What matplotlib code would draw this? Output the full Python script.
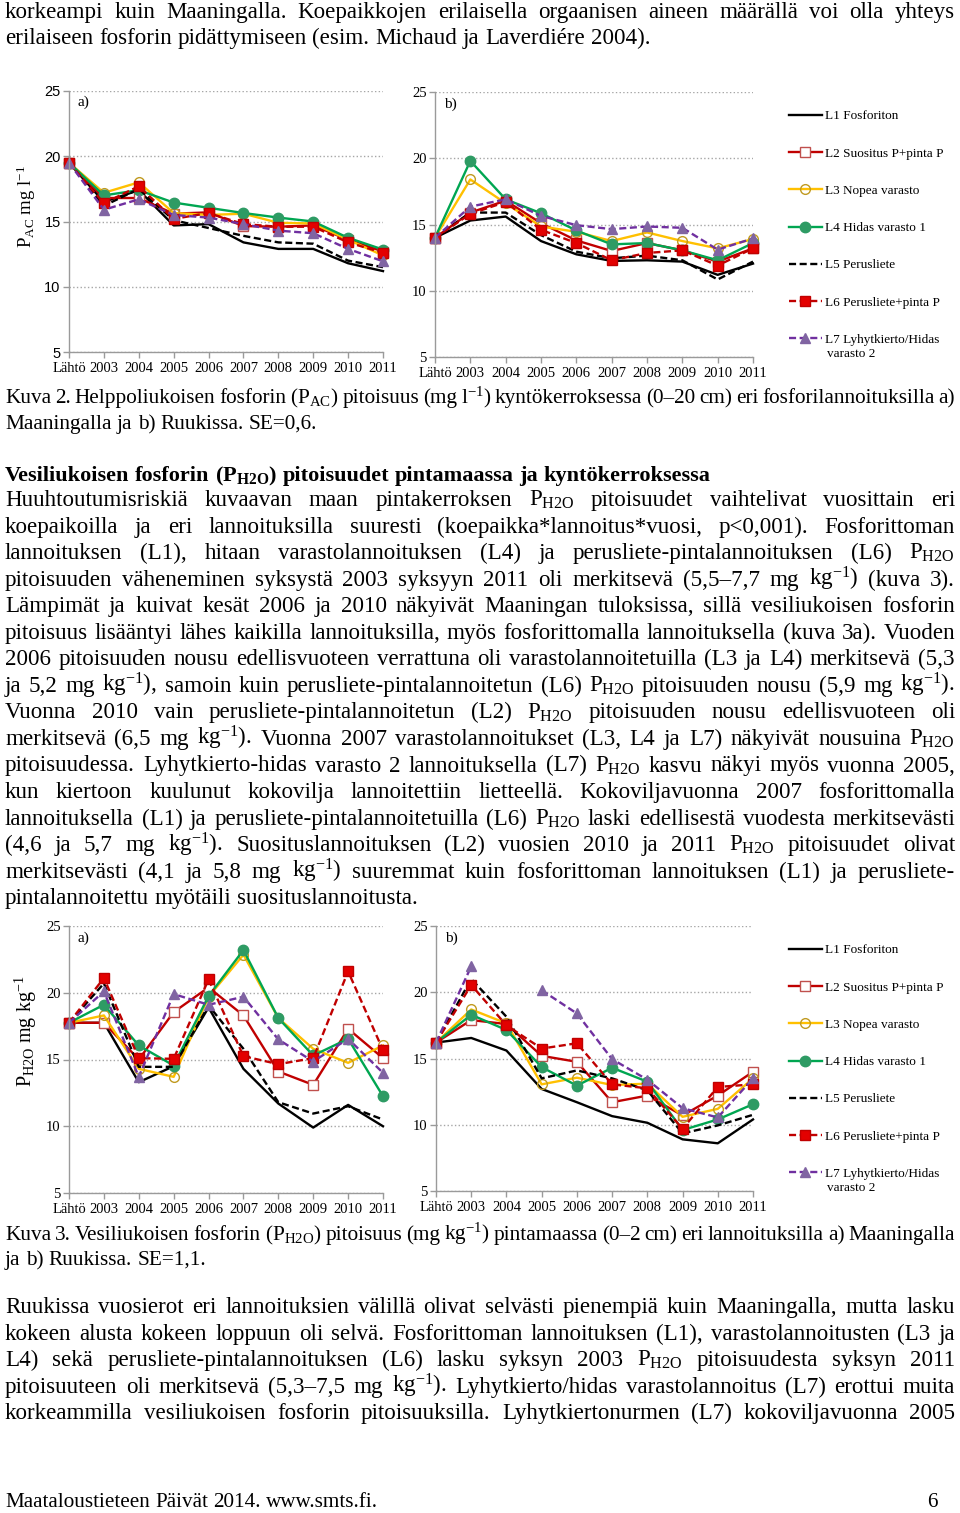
import numpy as np
import matplotlib
matplotlib.use('Agg')
import matplotlib.pyplot as plt
from matplotlib.lines import Line2D

plt.rcParams['font.family'] = ['Liberation Serif', 'DejaVu Serif']
plt.rcParams['mathtext.fontset'] = 'custom'
plt.rcParams['mathtext.rm'] = 'Liberation Serif'
plt.rcParams['mathtext.it'] = 'Liberation Serif:italic'
plt.rcParams['mathtext.bf'] = 'Liberation Serif:bold'

# ---- data -------------------------------------------------------------
years = ['Lähtö', '2003', '2004', '2005', '2006', '2007', '2008', '2009', '2010', '2011']
series_names = ['L1 Fosforiton', 'L2 Suositus P+pinta P', 'L3 Nopea varasto',
                'L4 Hidas varasto 1', 'L5 Perusliete', 'L6 Perusliete+pinta P',
                'L7 Lyhytkierto/Hidas']

# Kuva 2 a) Maaninka, P_AC
pac_a_L1 = [19.5, 16.5, 17.4, 14.7, 14.8, 13.4, 12.9, 12.9, 11.8, 11.2]
pac_a_L2 = [19.5, 16.8, 16.8, 15.6, 15.7, 14.65, 14.6, 14.7, 13.6, 12.7]
pac_a_L3 = [19.5, 17.2, 18.0, 15.65, 15.5, 15.6, 14.9, 14.85, 13.6, 12.4]
pac_a_L4 = [19.5, 17.0, 17.4, 16.45, 16.05, 15.65, 15.3, 15.0, 13.75, 12.85]
pac_a_L5 = [19.5, 16.2, 17.5, 15.1, 14.5, 13.9, 13.4, 13.3, 12.0, 11.5]
pac_a_L6 = [19.5, 16.4, 17.7, 15.2, 15.65, 14.8, 14.6, 14.6, 13.4, 12.6]
pac_a_L7 = [19.5, 15.9, 16.7, 15.5, 15.3, 14.8, 14.3, 14.1, 12.9, 11.95]

# Kuva 2 b) Ruukki, P_AC
pac_b_L1 = [14.0, 15.3, 15.6, 13.75, 12.75, 12.25, 12.3, 12.2, 11.2, 12.05]
pac_b_L2 = [14.0, 15.9, 16.8, 15.1, 13.8, 13.0, 13.6, 13.05, 12.2, 13.2]
pac_b_L3 = [14.0, 18.4, 16.6, 14.85, 14.45, 13.75, 14.4, 13.75, 13.2, 13.9]
pac_b_L4 = [14.0, 19.8, 16.9, 15.85, 14.55, 13.5, 13.6, 13.05, 12.3, 13.6]
pac_b_L5 = [14.0, 15.9, 15.9, 14.2, 12.95, 12.45, 12.65, 12.3, 10.85, 12.2]
pac_b_L6 = [14.0, 15.8, 16.7, 14.6, 13.6, 12.3, 12.85, 13.05, 11.9, 13.2]
pac_b_L7 = [14.0, 16.35, 16.9, 15.65, 14.95, 14.65, 14.85, 14.75, 13.1, 13.95]

# Kuva 3 a) Maaninka, P_H2O
h2o_a_L1 = [17.75, 17.75, 13.3, 14.5, 18.9, 14.3, 11.7, 9.9, 11.6, 10.0]
h2o_a_L2 = [17.75, 17.75, 15.0, 18.55, 20.4, 18.3, 14.1, 13.1, 17.3, 15.1]
h2o_a_L3 = [17.75, 18.3, 14.3, 13.7, 19.7, 22.85, 18.1, 15.8, 14.75, 16.05]
h2o_a_L4 = [17.75, 19.1, 16.05, 14.55, 19.75, 23.2, 18.1, 15.3, 16.55, 12.25]
h2o_a_L5 = [17.75, 20.7, 14.45, 14.45, 19.05, 15.8, 11.8, 10.95, 11.5, 10.5]
h2o_a_L6 = [17.75, 21.1, 15.1, 15.05, 21.0, 15.25, 14.65, 15.1, 21.6, 15.7]
h2o_a_L7 = [17.75, 20.1, 13.7, 19.9, 19.1, 19.7, 16.5, 14.85, 16.55, 14.0]

# Kuva 3 b) Ruukki, P_H2O
h2o_b_L1 = [16.2, 16.55, 15.6, 12.7, 11.7, 10.65, 10.15, 8.9, 8.6, 10.4]
h2o_b_L2 = [16.2, 17.9, 17.6, 15.2, 14.75, 11.7, 12.2, 10.7, 12.2, 14.0]
h2o_b_L3 = [16.2, 18.7, 17.65, 13.05, 13.55, 13.0, 13.1, 10.6, 11.2, 13.5]
h2o_b_L4 = [16.2, 18.3, 17.15, 14.35, 12.95, 14.3, 13.25, 9.6, 10.4, 11.55]
h2o_b_L5 = [16.2, 21.0, 18.15, 13.5, 14.1, 13.5, 12.6, 9.35, 9.95, 10.75]
h2o_b_L6 = [16.2, 20.55, 17.5, 15.75, 16.15, 13.05, 12.75, 9.7, 12.85, 13.05]
h2o_b_L7 = [16.2, 21.95, np.nan, 20.15, 18.4, 14.95, 13.4, 11.25, 10.55, 13.5]

# ---- styles -----------------------------------------------------------
styles = [
    dict(color='black', lw=1.7),
    dict(color='#C00000', lw=1.7, marker='s', ms=7, mfc='white', mec='#C0504D', mew=1.0),
    dict(color='#FFC000', lw=1.7, marker='o', ms=7, mfc='none', mec='#C09A20', mew=1.0),
    dict(color='#00A651', lw=1.7, marker='o', ms=7.5, mfc='#2E9B64', mec='#2E9B64'),
    dict(color='black', lw=1.7, ls=(0, (3, 1.5))),
    dict(color='#C00000', lw=1.7, ls=(0, (3, 1.5)), marker='s', ms=7, mfc='#E30000', mec='#C00000'),
    dict(color='#7030A0', lw=1.7, ls=(0, (3, 1.5)), marker='^', ms=7, mfc='#8064A2', mec='#8064A2'),
]

W, H = 960, 1513
fig = plt.figure(figsize=(W / 100, H / 100), dpi=100)
fig.patch.set_facecolor('white')
renderer = fig.canvas.get_renderer()

BODY = 16.6
CAPT = 15.3
TICK = 10.5


def put_line(text, base, justify=True, size=BODY, weight='normal', x0=5, x1=955):
    # place words one by one so that justified lines fill the column
    items = [fig.text(0, 0, w, fontsize=size, fontweight=weight, va='baseline', ha='left')
             for w in text.split(' ')]
    widths = [t.get_window_extent(renderer).width for t in items]
    space = size * 100 / 72 * 0.25
    if justify and len(items) > 1:
        gap = max((x1 - x0 - sum(widths)) / (len(items) - 1), space * 0.5)
    else:
        gap = space
    x = x0
    for t, w in zip(items, widths):
        t.set_position((x / W, 1 - base / H))
        x += w + gap


def panel(rect, data, tag, ylab=None, sans_y=False):
    l, r, t, b = rect
    ax = fig.add_axes([l / W, 1 - b / H, (r - l) / W, (b - t) / H])
    x = np.arange(len(years))
    for vals, st in zip(data, styles):
        ax.plot(x, vals, clip_on=False, **st)
    ax.set_xlim(0, 9)
    ax.set_ylim(5, 25)
    ax.set_yticks([5, 10, 15, 20, 25])
    ax.set_xticks(x)
    ax.set_xticklabels(years)
    ax.grid(axis='y', color='#a6a6a6', ls=':', lw=1.0)
    ax.set_axisbelow(True)
    for s in ['top', 'right']:
        ax.spines[s].set_visible(False)
    for s in ['left', 'bottom']:
        ax.spines[s].set_color('#9a9a9a')
        ax.spines[s].set_linewidth(1.0)
    ax.tick_params(axis='both', color='#9a9a9a', length=4, width=1.0, labelsize=TICK)
    ax.tick_params(axis='y', pad=2)
    ax.tick_params(axis='x', pad=3)
    if sans_y:
        for lab in ax.get_yticklabels():
            lab.set_family('Liberation Sans')
    ax.text(0.028, 0.955, tag, transform=ax.transAxes, fontsize=11, va='center')
    if ylab:
        fig.text(26 / W, 1 - ylab[1] / H, ylab[0], rotation=90, fontsize=ylab[2],
                 ha='center', va='center')
    return ax


def legend(top):
    handles = [Line2D([], [], **st) for st in styles]
    fig.legend(handles, series_names, loc='upper left',
               bbox_to_anchor=(789 / W, 1 - top / H), frameon=False, fontsize=9.5,
               labelspacing=1.9, handlelength=2.5, handletextpad=0.25,
               borderpad=0, borderaxespad=0)


# ---- text -------------------------------------------------------------
put_line("korkeampi kuin Maaningalla. Koepaikkojen erilaisella orgaanisen aineen määrällä voi olla yhteys", 18)
put_line("erilaiseen fosforin pidättymiseen (esim. Michaud ja Laverdiére 2004).", 44, justify=False)

put_line(r"Kuva 2. Helppoliukoisen fosforin (P$_{\mathrm{AC}}$) pitoisuus (mg l$^{\mathrm{-1}}$) kyntökerroksessa (0–20 cm) eri fosforilannoituksilla a)",
         403, size=CAPT)
put_line("Maaningalla ja b) Ruukissa. SE=0,6.", 429, justify=False, size=CAPT)

put_line(r"Vesiliukoisen fosforin (P$_{\mathbf{H2O}}$) pitoisuudet pintamaassa ja kyntökerroksessa",
         481, justify=False, weight='bold', size=16.0)

para1 = [
    r"Huuhtoutumisriskiä kuvaavan maan pintakerroksen P$_{\mathrm{H2O}}$ pitoisuudet vaihtelivat vuosittain eri",
    r"koepaikoilla ja eri lannoituksilla suuresti (koepaikka*lannoitus*vuosi, p<0,001). Fosforittoman",
    r"lannoituksen (L1), hitaan varastolannoituksen (L4) ja perusliete-pintalannoituksen (L6) P$_{\mathrm{H2O}}$",
    r"pitoisuuden väheneminen syksystä 2003 syksyyn 2011 oli merkitsevä (5,5–7,7 mg kg$^{\mathrm{-1}}$) (kuva 3).",
    r"Lämpimät ja kuivat kesät 2006 ja 2010 näkyivät Maaningan tuloksissa, sillä vesiliukoisen fosforin",
    r"pitoisuus lisääntyi lähes kaikilla lannoituksilla, myös fosforittomalla lannoituksella (kuva 3a). Vuoden",
    r"2006 pitoisuuden nousu edellisvuoteen verrattuna oli varastolannoitetuilla (L3 ja L4) merkitsevä (5,3",
    r"ja 5,2 mg kg$^{\mathrm{-1}}$), samoin kuin perusliete-pintalannoitetun (L6) P$_{\mathrm{H2O}}$ pitoisuuden nousu (5,9 mg kg$^{\mathrm{-1}}$).",
    r"Vuonna 2010 vain perusliete-pintalannoitetun (L2) P$_{\mathrm{H2O}}$ pitoisuuden nousu edellisvuoteen oli",
    r"merkitsevä (6,5 mg kg$^{\mathrm{-1}}$). Vuonna 2007 varastolannoitukset (L3, L4 ja L7) näkyivät nousuina P$_{\mathrm{H2O}}$",
    r"pitoisuudessa. Lyhytkierto-hidas varasto 2 lannoituksella (L7) P$_{\mathrm{H2O}}$ kasvu näkyi myös vuonna 2005,",
    r"kun kiertoon kuulunut kokovilja lannoitettiin lietteellä. Kokoviljavuonna 2007 fosforittomalla",
    r"lannoituksella (L1) ja perusliete-pintalannoitetuilla (L6) P$_{\mathrm{H2O}}$ laski edellisestä vuodesta merkitsevästi",
    r"(4,6 ja 5,7 mg kg$^{\mathrm{-1}}$). Suosituslannoituksen (L2) vuosien 2010 ja 2011 P$_{\mathrm{H2O}}$ pitoisuudet olivat",
    r"merkitsevästi (4,1 ja 5,8 mg kg$^{\mathrm{-1}}$) suuremmat kuin fosforittoman lannoituksen (L1) ja perusliete-",
    r"pintalannoitettu myötäili suosituslannoitusta.",
]
for i, ln in enumerate(para1):
    put_line(ln, 506 + 26.55 * i, justify=(i < len(para1) - 1))

put_line(r"Kuva 3. Vesiliukoisen fosforin (P$_{\mathrm{H2O}}$) pitoisuus (mg kg$^{\mathrm{-1}}$) pintamaassa (0–2 cm) eri lannoituksilla a) Maaningalla",
         1240, size=CAPT)
put_line("ja b) Ruukissa. SE=1,1.", 1265, justify=False, size=CAPT)

para2 = [
    r"Ruukissa vuosierot eri lannoituksien välillä olivat selvästi pienempiä kuin Maaningalla, mutta lasku",
    r"kokeen alusta kokeen loppuun oli selvä. Fosforittoman lannoituksen (L1), varastolannoitusten (L3 ja",
    r"L4) sekä perusliete-pintalannoituksen (L6) lasku syksyn 2003 P$_{\mathrm{H2O}}$ pitoisuudesta syksyn 2011",
    r"pitoisuuteen oli merkitsevä (5,3–7,5 mg kg$^{\mathrm{-1}}$). Lyhytkierto/hidas varastolannoitus (L7) erottui muita",
    r"korkeammilla vesiliukoisen fosforin pitoisuuksilla. Lyhytkiertonurmen (L7) kokoviljavuonna 2005",
]
for i, ln in enumerate(para2):
    put_line(ln, 1313 + 26.55 * i)

put_line("Maataloustieteen Päivät 2014. www.smts.fi.", 1507, justify=False, size=15.2)
fig.text(938 / W, 1 - 1507 / H, "6", fontsize=15.2, ha='right', va='baseline')

# ---- charts -----------------------------------------------------------
panel((69, 383, 91, 352),
      [pac_a_L1, pac_a_L2, pac_a_L3, pac_a_L4, pac_a_L5, pac_a_L6, pac_a_L7],
      'a)', ylab=(r"P$_{\mathrm{AC}}$ mg l$^{\mathrm{-1}}$", 206, 13.5), sans_y=True)
panel((435, 753, 92, 357),
      [pac_b_L1, pac_b_L2, pac_b_L3, pac_b_L4, pac_b_L5, pac_b_L6, pac_b_L7], 'b)')
legend(110)
fig.text(827 / W, 1 - 354 / H, "varasto 2", fontsize=9.5, va='center')

panel((69, 383, 926, 1193),
      [h2o_a_L1, h2o_a_L2, h2o_a_L3, h2o_a_L4, h2o_a_L5, h2o_a_L6, h2o_a_L7],
      'a)', ylab=(r"P$_{\mathrm{H2O}}$ mg kg$^{\mathrm{-1}}$", 1031, 14.5))
panel((436, 753, 926, 1191),
      [h2o_b_L1, h2o_b_L2, h2o_b_L3, h2o_b_L4, h2o_b_L5, h2o_b_L6, h2o_b_L7], 'b)')
legend(944)
fig.text(827 / W, 1 - 1188 / H, "varasto 2", fontsize=9.5, va='center')

fig.savefig('out.png', dpi=100, facecolor='white')
